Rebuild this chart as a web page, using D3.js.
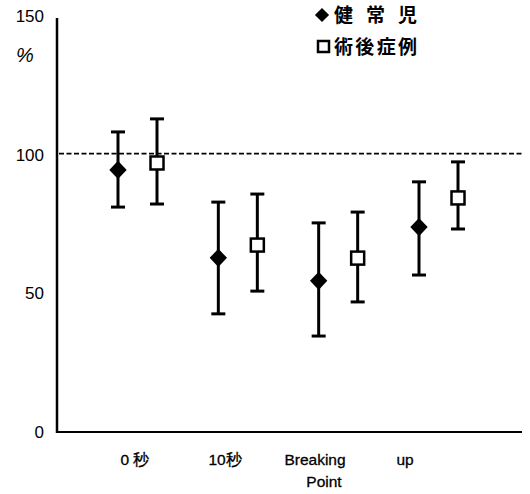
<!DOCTYPE html>
<html>
<head>
<meta charset="utf-8">
<script src="https://cdn.jsdelivr.net/npm/d3@7"></script>
<style>
  body { margin: 0; background: #fff; }
  text { font-family: "Liberation Sans", Arial, sans-serif; fill: #000; }
</style>
</head>
<body>
<script>
var width = 530,
    height = 494;

// data
var categories = ["0 秒", "10秒", "Breaking Point", "up"];
var healthyMean  = [94.5, 62.8, 54.5, 73.9];
var healthyUpper = [108.2, 82.9, 75.4, 90.2];
var healthyLower = [81.1, 42.6, 34.6, 56.6];
var postopMean  = [97.0, 67.4, 62.7, 84.4];
var postopUpper = [112.9, 85.8, 79.3, 97.4];
var postopLower = [82.2, 50.8, 46.9, 73.2];
var yTicks = [0, 50, 100, 150];
var seriesNames = ["健 常 児", "術後症例"];
var refLine = 100;

var series = [
  {name: seriesNames[0], mean: healthyMean, hi: healthyUpper, lo: healthyLower, shape: "diamond", dx: 0},
  {name: seriesNames[1], mean: postopMean, hi: postopUpper, lo: postopLower, shape: "square", dx: 39}
];

var svg = d3.select("body").append("svg")
    .attr("width", width)
    .attr("height", height);

var y = d3.scaleLinear().domain([0, 150]).range([432, 16]);
var x = d3.scalePoint().domain(categories).range([118, 419]);
var xLabel = d3.scalePoint().domain(categories).range([135, 405]);
var x0 = 57, x1 = 522;

// a square standing on its corner
var fatDiamond = {
  draw: function(ctx, size) {
    var r = Math.sqrt(size / 2);
    ctx.moveTo(0, -r);
    ctx.lineTo(r, 0);
    ctx.lineTo(0, r);
    ctx.lineTo(-r, 0);
    ctx.closePath();
  }
};

// reference line
svg.append("line")
    .attr("x1", x0 + 2).attr("x2", x1)
    .attr("y1", y(refLine) - 1).attr("y2", y(refLine) - 1)
    .attr("stroke", "#000")
    .attr("stroke-width", 1.6)
    .attr("stroke-dasharray", "5,2.5");

// axes
svg.append("line")
    .attr("x1", x0).attr("x2", x0)
    .attr("y1", y(0) + 1).attr("y2", y(150) + 2)
    .attr("stroke", "#000").attr("stroke-width", 2.5);
svg.append("line")
    .attr("x1", x0).attr("x2", x1)
    .attr("y1", y(0)).attr("y2", y(0))
    .attr("stroke", "#000").attr("stroke-width", 2.2);

svg.selectAll(".ytick")
    .data(yTicks)
    .enter().append("text")
    .attr("class", "ytick")
    .attr("x", 44)
    .attr("y", function(d) { return y(d); })
    .attr("dy", "0.36em")
    .attr("text-anchor", "end")
    .style("font-size", "17px")
    .text(function(d) { return d; });

svg.append("text")
    .attr("x", 25).attr("y", 55)
    .attr("dy", "0.36em")
    .attr("text-anchor", "middle")
    .style("font-size", "20px")
    .style("font-style", "italic")
    .text("%");

// category labels
var lab = svg.selectAll(".xlab")
    .data(categories)
    .enter().append("text")
    .attr("class", "xlab")
    .attr("text-anchor", "middle")
    .attr("y", 465)
    .style("font-size", "15.5px")
    .style("stroke", "#000")
    .style("stroke-width", 0.3);

lab.each(function(d) {
  var t = d3.select(this);
  var parts = d.indexOf("秒") >= 0 ? [d] : d.split(" ");
  parts.forEach(function(p, i) {
    t.append("tspan")
      .attr("x", xLabel(d) + (i ? 9 : 0))
      .attr("dy", i ? 22 : 0)
      .text(p);
  });
});

// error bars and markers
var diamond = d3.symbol().type(fatDiamond).size(150);

series.forEach(function(s) {
  var g = svg.append("g");
  var pts = categories.map(function(c, i) {
    return {x: x(c) + s.dx, m: s.mean[i], hi: s.hi[i], lo: s.lo[i]};
  });

  g.selectAll(".bar").data(pts).enter().append("line")
    .attr("x1", function(d) { return d.x; })
    .attr("x2", function(d) { return d.x; })
    .attr("y1", function(d) { return y(d.hi); })
    .attr("y2", function(d) { return y(d.lo); })
    .attr("stroke", "#000").attr("stroke-width", 3);

  ["hi", "lo"].forEach(function(k) {
    g.selectAll(".cap" + k).data(pts).enter().append("line")
      .attr("x1", function(d) { return d.x - 7; })
      .attr("x2", function(d) { return d.x + 7; })
      .attr("y1", function(d) { return y(d[k]); })
      .attr("y2", function(d) { return y(d[k]); })
      .attr("stroke", "#000").attr("stroke-width", 3);
  });

  if (s.shape == "diamond") {
    g.selectAll(".mk").data(pts).enter().append("path")
      .attr("d", diamond)
      .attr("transform", function(d) {
        return "translate(" + [d.x, y(d.m)] + ") scale(1,1.05)";
      })
      .attr("fill", "#000");
  } else {
    g.selectAll(".mk").data(pts).enter().append("rect")
      .attr("x", function(d) { return d.x - 6.5; })
      .attr("y", function(d) { return y(d.m) - 6.5; })
      .attr("width", 13).attr("height", 13)
      .attr("fill", "#fff")
      .attr("stroke", "#000").attr("stroke-width", 2.5);
  }
});

// legend
var leg = svg.append("g");
leg.append("path")
    .attr("d", d3.symbol().type(fatDiamond).size(100))
    .attr("transform", "translate(322,15)")
    .attr("fill", "#000");
leg.append("rect")
    .attr("x", 318).attr("y", 41)
    .attr("width", 11).attr("height", 11)
    .attr("fill", "#fff")
    .attr("stroke", "#000").attr("stroke-width", 2.5);
leg.selectAll(".lt")
    .data(seriesNames)
    .enter().append("text")
    .attr("x", 334)
    .attr("y", function(d, i) { return 15 + i * 32; })
    .attr("dy", "0.36em")
    .attr("textLength", 83)
    .attr("lengthAdjust", "spacing")
    .style("font-family", "'Noto Sans CJK JP', sans-serif")
    .style("font-size", "19px")
    .style("font-weight", "bold")
    .text(function(d) { return d; });
</script>
</body>
</html>
